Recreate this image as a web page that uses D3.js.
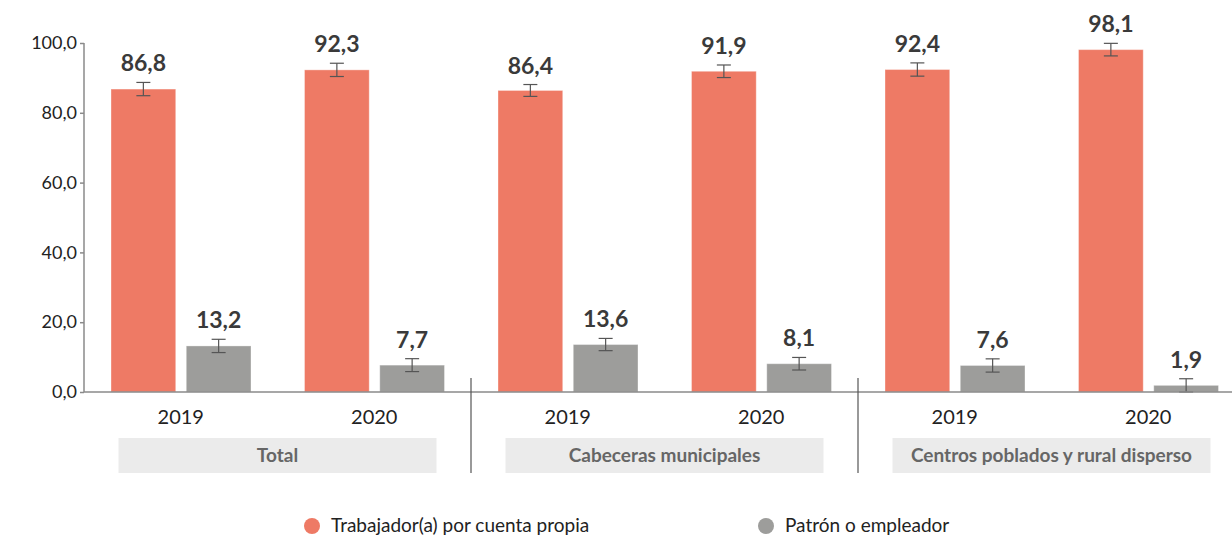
<!DOCTYPE html>
<html>
<head>
<meta charset="utf-8">
<script src="https://cdn.jsdelivr.net/npm/d3@7"></script>
<style>
  body { margin: 0; background: #fff; }
  svg { display: block; font-family: Lato, "Open Sans", sans-serif; }
</style>
</head>
<body>
<div id="chart"></div>
<script>
// Data
const groups = ["Total", "Cabeceras municipales", "Centros poblados y rural disperso"];
const years = ["2019", "2020"];
const series = ["Trabajador(a) por cuenta propia", "Patrón o empleador"];
const cuentaPropia = [86.8, 92.3, 86.4, 91.9, 92.4, 98.1];
const patron = [13.2, 7.7, 13.6, 8.1, 7.6, 1.9];
const errCuentaPropia = [1.9, 1.9, 1.7, 1.8, 1.9, 1.8];
const errPatron = [1.9, 1.85, 1.75, 1.8, 1.9, 1.9];
const yTicks = [0, 20, 40, 60, 80, 100];

const colors = ["#ee7a65", "#9d9d9b"];

const W = 1232, H = 540;
const svg = d3.select("#chart").append("svg")
    .attr("width", W)
    .attr("height", H);

// Category keys: one per group/year pair
const cats = [];
groups.forEach((g, gi) => years.forEach((yr, yi) => cats.push({ group: g, gi, year: yr, key: g + "|" + yr })));

const x0 = d3.scaleBand().domain(cats.map(d => d.key)).range([84, 1245]).paddingInner(0).paddingOuter(0);
const x1 = d3.scaleBand().domain([0, 1]).range([27, 167]).paddingInner(0.14);
const y = d3.scaleLinear().domain([0, 100]).range([392, 43]);

// Y axis
const yAxis = svg.append("g")
    .attr("transform", "translate(84,0)")
    .call(d3.axisLeft(y).tickValues(yTicks).tickSize(4).tickPadding(3)
        .tickFormat(d => d3.format(".1f")(d).replace(".", ",")));
yAxis.select(".domain").attr("stroke", "#8a8a8a").attr("stroke-width", 1.5).attr("d", "M0,43V392");
yAxis.selectAll(".tick line").attr("stroke", "#8a8a8a").attr("stroke-width", 1.5);
yAxis.selectAll(".tick text").attr("font-size", 18).attr("fill", "#222").attr("font-family", "Lato, sans-serif");

// Bars
const valueSets = [cuentaPropia, patron];
const errSets = [errCuentaPropia, errPatron];

cats.forEach((c, ci) => {
    const g = svg.append("g").attr("transform", `translate(${x0(c.key)},0)`);
    [0, 1].forEach(si => {
        const v = valueSets[si][ci];
        const e = errSets[si][ci];
        const bx = x1(si), bw = x1.bandwidth();
        g.append("rect")
            .attr("x", bx)
            .attr("y", y(v))
            .attr("width", bw)
            .attr("height", y(0) - y(v))
            .attr("fill", colors[si])
            .attr("stroke", "rgba(255,255,255,0.35)")
            .attr("stroke-width", 1);

        // error bar
        const cx = bx + bw / 2;
        const top = y(v + e), bot = y(Math.max(0, v - e));
        g.append("line").attr("x1", cx).attr("x2", cx).attr("y1", top).attr("y2", bot)
            .attr("stroke", "#555").attr("stroke-width", 1.2);
        [top, bot].forEach(yy => g.append("line")
            .attr("x1", cx - 7).attr("x2", cx + 7).attr("y1", yy).attr("y2", yy)
            .attr("stroke", "#555").attr("stroke-width", 1.2));

        // value label
        g.append("text")
            .attr("x", cx)
            .attr("y", top - 11)
            .attr("text-anchor", "middle")
            .attr("font-size", 23)
            .attr("font-weight", "bold")
            .attr("fill", "#3a3a3a")
            .text(d3.format(".1f")(v).replace(".", ","));
    });

    // year label
    svg.append("text")
        .attr("x", x0(c.key) + x0.bandwidth() / 2)
        .attr("y", 424)
        .attr("text-anchor", "middle")
        .attr("font-size", 20)
        .attr("fill", "#222")
        .text(c.year);
});

// X axis baseline
svg.append("line")
    .attr("x1", 84).attr("x2", W)
    .attr("y1", y(0)).attr("y2", y(0))
    .attr("stroke", "#8a8a8a").attr("stroke-width", 1.5);

// Group separators and labels
const step = x0.step();
groups.forEach((gname, gi) => {
    const start = x0(cats[gi * 2].key);
    const center = start + step;
    if (gi > 0) {
        svg.append("line")
            .attr("x1", start).attr("x2", start)
            .attr("y1", 378).attr("y2", 473)
            .attr("stroke", "#555").attr("stroke-width", 1.2);
    }
    const lg = svg.append("g");
    const box = lg.append("rect")
        .attr("y", 438)
        .attr("height", 35)
        .attr("fill", "#ebebeb");
    const lbl = lg.append("text")
        .attr("x", center)
        .attr("y", 462)
        .attr("text-anchor", "middle")
        .attr("font-size", 19)
        .attr("font-weight", "bold")
        .attr("fill", "#666")
        .text(gname);
    const tw = lbl.node().getComputedTextLength();
    const bw = Math.max(318, tw + 36);
    box.attr("x", center - bw / 2).attr("width", bw);
});

// Legend
const legendX = [312, 766];
series.forEach((s, i) => {
    svg.append("circle")
        .attr("cx", legendX[i]).attr("cy", 526).attr("r", 8)
        .attr("fill", colors[i]);
    svg.append("text")
        .attr("x", legendX[i] + 19)
        .attr("y", 532)
        .attr("font-size", 19)
        .attr("fill", "#222")
        .text(s);
});
</script>
</body>
</html>
